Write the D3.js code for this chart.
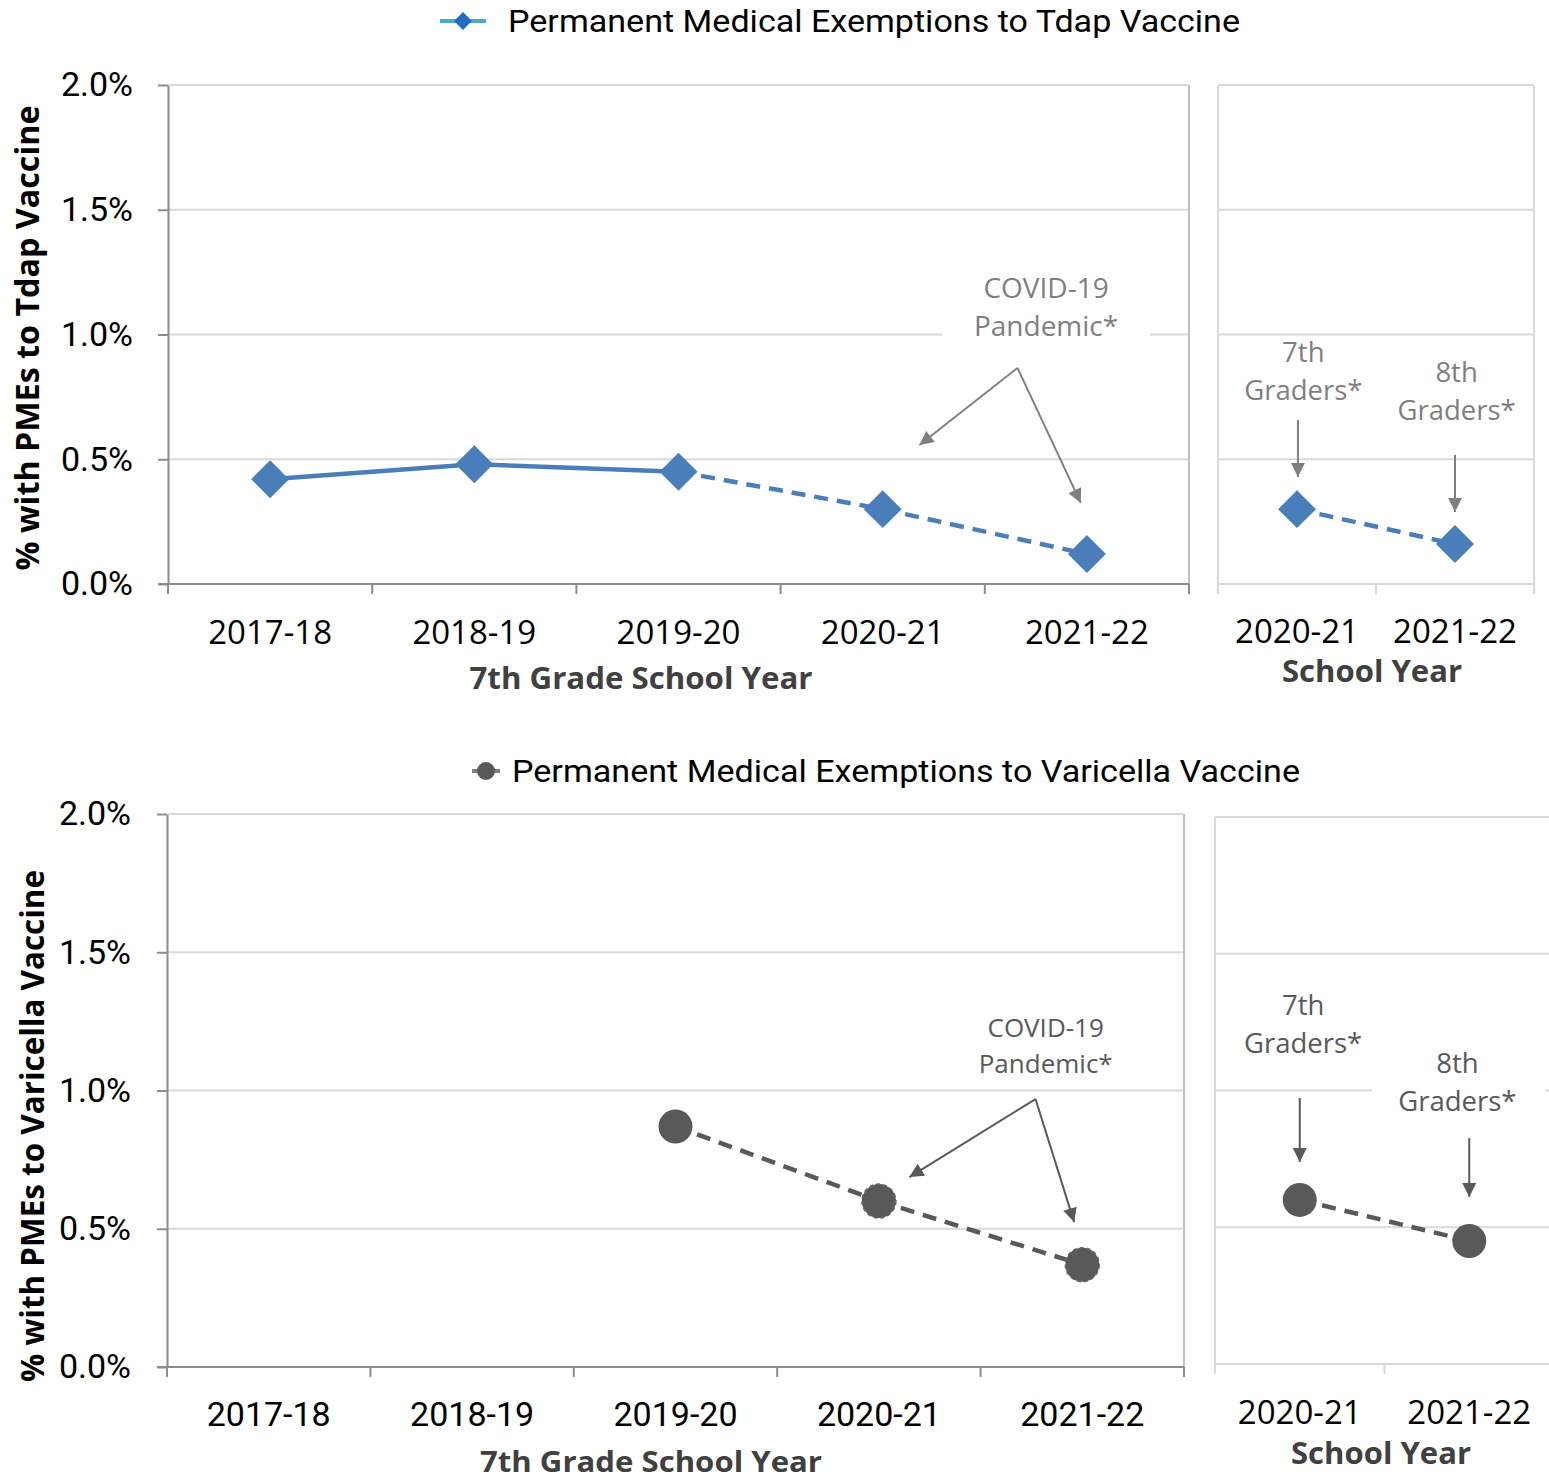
<!DOCTYPE html>
<html>
<head>
<meta charset="utf-8">
<script src="https://cdn.jsdelivr.net/npm/d3@7"></script>
<style>
  body { margin: 0; background: #fff; }
  svg { display: block; }
</style>
</head>
<body>
<div id="chart"></div>
<script>
// --- Datos ---
const seventhYears = ["2017-18", "2018-19", "2019-20", "2020-21", "2021-22"];
const gradeYears = ["2020-21", "2021-22"];
const yTicks = [0, 0.5, 1.0, 1.5, 2.0];

const tdapValues = [0.42, 0.48, 0.45, 0.30, 0.12];
const tdapGradeValues = [0.30, 0.16];
const varicellaValues = [null, null, 0.87, 0.60, 0.37];
const varicellaGradeValues = [0.60, 0.45];

// the line becomes dashed after this index (COVID years)
const tdapSolidUntil = 2;
const varicellaSolidUntil = 0;

const BLUE = "#4a7ebb";
const GRAY = "#595959";
const GRID = "#d9d9d9";
const AXIS = "#8c8c8c";

const svg = d3.select("#chart").append("svg")
    .attr("width", 1549)
    .attr("height", 1483)
    .style("font-family", "'Open Sans', sans-serif");

// arrow heads
const defs = svg.append("defs");
[["arrowLight", "#7f7f7f"], ["arrowDark", "#595959"]].forEach(([id, c]) => {
    defs.append("marker")
        .attr("id", id)
        .attr("viewBox", "0 0 10 10")
        .attr("refX", 10).attr("refY", 5)
        .attr("markerWidth", 16).attr("markerHeight", 14)
        .attr("markerUnits", "userSpaceOnUse")
        .attr("orient", "auto")
        .append("path")
        .attr("d", "M0,0 L10,5 L0,10 Z")
        .attr("fill", c);
});

function drawPanel(p) {
    const x = d3.scaleBand().domain(p.cats).range([p.x0, p.x1]);
    const y = d3.scaleLinear().domain([0, 2]).range([p.yBottom, p.yTop]);
    const cx = i => p.x0 + (i + 0.5) * x.step();
    const g = svg.append("g");

    // gridlines
    g.selectAll(".grid")
        .data(yTicks.filter(t => t > 0))
        .join("line")
        .attr("x1", p.x0).attr("x2", p.x1)
        .attr("y1", d => y(d)).attr("y2", d => y(d))
        .attr("stroke", GRID).attr("stroke-width", 2);

    // right border
    g.append("line")
        .attr("x1", p.x1).attr("x2", p.x1)
        .attr("y1", p.yTop).attr("y2", p.yBottom)
        .attr("stroke", p.main ? "#bfbfbf" : GRID).attr("stroke-width", 2);

    // left axis
    if (p.main) {
        const ax = g.append("g")
            .attr("transform", `translate(${p.x0},0)`)
            .call(d3.axisLeft(y).tickValues(yTicks)
                .tickFormat(d => d.toFixed(1) + "%")
                .tickSize(10).tickSizeOuter(0).tickPadding(p.yLabelPad));
        ax.select(".domain").attr("stroke", AXIS).attr("stroke-width", 2);
        ax.selectAll(".tick line").attr("stroke", AXIS).attr("stroke-width", 2);
        ax.selectAll(".tick text")
            .attr("fill", "#000")
            .style("font-family", "Roboto, sans-serif")
            .style("font-size", "34px");
    } else {
        g.append("line")
            .attr("x1", p.x0).attr("x2", p.x0)
            .attr("y1", p.yTop).attr("y2", p.yBottom + 10)
            .attr("stroke", GRID).attr("stroke-width", 2);
    }

    // top border
    g.append("line")
        .attr("x1", p.x0).attr("x2", p.x1)
        .attr("y1", p.yTop).attr("y2", p.yTop)
        .attr("stroke", GRID).attr("stroke-width", 2);

    // bottom axis with ticks at the category boundaries
    const axisColor = p.main ? AXIS : GRID;
    g.append("line")
        .attr("x1", p.x0 - (p.main ? 10 : 0)).attr("x2", p.x1)
        .attr("y1", p.yBottom).attr("y2", p.yBottom)
        .attr("stroke", axisColor).attr("stroke-width", 2);
    const bounds = p.cats.map(c => x(c)).concat([p.x1]);
    g.selectAll(".xtick")
        .data(bounds)
        .join("line")
        .attr("x1", d => d).attr("x2", d => d)
        .attr("y1", p.yBottom).attr("y2", p.yBottom + 10)
        .attr("stroke", axisColor).attr("stroke-width", 2);
    g.selectAll(".xlabel")
        .data(p.cats)
        .join("text")
        .attr("x", d => x(d) + x.bandwidth() / 2)
        .attr("y", p.xLabelY)
        .attr("text-anchor", "middle")
        .style("font-family", p.xLabelFont)
        .style("font-size", p.xLabelSize)
        .attr("fill", "#000")
        .text(d => d);

    // axis title
    g.append("text")
        .attr("x", p.titleX).attr("y", p.titleY)
        .attr("text-anchor", "middle")
        .attr("textLength", p.titleLen).attr("lengthAdjust", "spacingAndGlyphs")
        .style("font-size", p.titleSize || "31px").style("font-weight", "bold")
        .attr("fill", "#404040")
        .text(p.title);

    return { x, y, cx, g };
}

function drawSeries(panel, values, solidUntil, color, marker, dashedMarkerFrom) {
    const { y, cx, g } = panel;
    const pts = values.map((v, i) => ({ i, v })).filter(d => d.v !== null);
    const line = d3.line().x(d => cx(d.i)).y(d => y(d.v));
    for (let k = 0; k < pts.length - 1; k++) {
        const dashed = pts[k].i >= solidUntil;
        g.append("path")
            .datum([pts[k], pts[k + 1]])
            .attr("d", line)
            .attr("fill", "none")
            .attr("stroke", color)
            .attr("stroke-width", 4.5)
            .attr("stroke-dasharray", dashed ? "14,9" : null);
    }
    if (marker === "diamond") {
        g.selectAll(".mk")
            .data(pts)
            .join("path")
            .attr("d", d3.symbol(d3.symbolSquare, 720))
            .attr("transform", d => `translate(${cx(d.i)},${y(d.v)}) rotate(45)`)
            .attr("fill", color);
    } else {
        g.selectAll(".mk")
            .data(pts)
            .join("circle")
            .attr("cx", d => cx(d.i)).attr("cy", d => y(d.v))
            .attr("r", 17)
            .attr("fill", color)
            .attr("stroke", "#666")
            .attr("stroke-width", d => d.i >= dashedMarkerFrom ? 1.5 : 0)
            .attr("stroke-dasharray", "4,3");
    }
}

function annotate(panel, a) {
    const { y, cx, g } = panel;
    if (a.box) {
        g.append("rect")
            .attr("x", a.box[0]).attr("width", a.box[1] - a.box[0])
            .attr("y", y(a.lines[0].v) - 20).attr("height", y(a.lines[a.lines.length - 1].v) - y(a.lines[0].v) + 45)
            .attr("fill", "#fff");
    }
    a.lines.forEach(l => {
        g.append("text")
            .attr("x", cx(a.ti)).attr("y", y(l.v))
            .attr("dy", "0.35em")
            .attr("text-anchor", "middle")
            .style("font-size", a.size)
            .attr("fill", a.color)
            .text(l.t);
    });
    a.arrows.forEach(ar => {
        g.append("line")
            .attr("x1", cx(ar[0])).attr("y1", y(ar[1]))
            .attr("x2", cx(ar[2])).attr("y2", y(ar[3]))
            .attr("stroke", a.color).attr("stroke-width", 2)
            .attr("marker-end", `url(#${a.color === GRAY ? "arrowDark" : "arrowLight"})`);
    });
}

function legend(x, y, label, len, marker, lineColor, markColor, lineX0, lineX1) {
    const g = svg.append("g");
    g.append("line")
        .attr("x1", lineX0).attr("x2", lineX1)
        .attr("y1", y).attr("y2", y)
        .attr("stroke", lineColor).attr("stroke-width", 4);
    const mx = (lineX0 + lineX1) / 2;
    if (marker === "diamond") {
        g.append("path")
            .attr("d", d3.symbol(d3.symbolSquare, 160))
            .attr("transform", `translate(${mx},${y}) rotate(45)`)
            .attr("fill", markColor);
    } else {
        g.append("circle").attr("cx", mx).attr("cy", y).attr("r", 9).attr("fill", markColor);
    }
    g.append("text")
        .attr("x", x).attr("y", y)
        .attr("dy", "0.35em")
        .attr("textLength", len).attr("lengthAdjust", "spacingAndGlyphs")
        .style("font-family", "Roboto, sans-serif")
        .style("font-size", "31px")
        .attr("fill", "#000")
        .text(label);
}

function yTitle(x, yc, label, len) {
    svg.append("text")
        .attr("transform", `translate(${x},${yc}) rotate(-90)`)
        .attr("text-anchor", "middle")
        .attr("dy", "0.35em")
        .attr("textLength", len).attr("lengthAdjust", "spacingAndGlyphs")
        .style("font-size", "32px").style("font-weight", "bold")
        .attr("fill", "#000")
        .text(label);
}

// --- Tdap ---
legend(508, 21, "Permanent Medical Exemptions to Tdap Vaccine", 732, "diamond", "#4bacc6", "#1f6fbf", 440, 486);
yTitle(28, 338, "% with PMEs to Tdap Vaccine", 465);

const tdapMain = drawPanel({
    main: true, cats: seventhYears, x0: 168, x1: 1189, yTop: 85, yBottom: 584,
    yLabelPad: 25, xLabelY: 644, xLabelFont: "'Open Sans', sans-serif", xLabelSize: "33px",
    title: "7th Grade School Year", titleX: 641, titleY: 689, titleLen: 343
});
annotate(tdapMain, {
    ti: 3.80, size: "28px", color: "#7f7f7f", box: [942, 1150],
    lines: [{ t: "COVID-19", v: 1.186 }, { t: "Pandemic*", v: 1.034 }],
    arrows: [[3.66, 0.866, 3.18, 0.557], [3.66, 0.866, 3.97, 0.325]]
});
drawSeries(tdapMain, tdapValues, tdapSolidUntil, BLUE, "diamond", 99);

const tdapSide = drawPanel({
    main: false, cats: gradeYears, x0: 1218, x1: 1534, yTop: 85, yBottom: 584,
    xLabelY: 643, xLabelFont: "'Open Sans', sans-serif", xLabelSize: "33px",
    title: "School Year", titleX: 1372, titleY: 682, titleLen: 180
});
annotate(tdapSide, {
    ti: 0.04, size: "27.5px", color: "#7f7f7f",
    lines: [{ t: "7th", v: 0.93 }, { t: "Graders*", v: 0.778 }],
    arrows: [[0.006, 0.657, 0.006, 0.429]]
});
annotate(tdapSide, {
    ti: 1.01, size: "27.5px", color: "#7f7f7f",
    lines: [{ t: "8th", v: 0.85 }, { t: "Graders*", v: 0.697 }],
    arrows: [[1.0, 0.517, 1.0, 0.289]]
});
drawSeries(tdapSide, tdapGradeValues, 0, BLUE, "diamond", 99);

// --- Varicella ---
legend(512, 771, "Permanent Medical Exemptions to Varicella Vaccine", 788, "circle", "#7f7f7f", GRAY, 472, 500);
yTitle(33, 1126, "% with PMEs to Varicella Vaccine", 512);

const varMain = drawPanel({
    main: true, cats: seventhYears, x0: 167, x1: 1184, yTop: 814, yBottom: 1367,
    yLabelPad: 26, xLabelY: 1426, xLabelFont: "Roboto, sans-serif", xLabelSize: "34px",
    title: "7th Grade School Year", titleX: 651, titleY: 1472, titleLen: 342, titleSize: "29px"
});
annotate(varMain, {
    ti: 3.82, size: "26px", color: GRAY, box: [945, 1147],
    lines: [{ t: "COVID-19", v: 1.226 }, { t: "Pandemic*", v: 1.096 }],
    arrows: [[3.77, 0.969, 3.15, 0.687], [3.77, 0.969, 3.96, 0.524]]
});
drawSeries(varMain, varicellaValues, varicellaSolidUntil, GRAY, "circle", 3);

const varSide = drawPanel({
    main: false, cats: gradeYears, x0: 1215, x1: 1554, yTop: 817, yBottom: 1364,
    xLabelY: 1424, xLabelFont: "'Open Sans', sans-serif", xLabelSize: "33px",
    title: "School Year", titleX: 1381, titleY: 1464, titleLen: 180
});
annotate(varSide, {
    ti: 0.02, size: "27.5px", color: GRAY,
    lines: [{ t: "7th", v: 1.313 }, { t: "Graders*", v: 1.174 }],
    arrows: [[0.0, 0.973, 0.0, 0.739]]
});
annotate(varSide, {
    ti: 0.93, size: "27.5px", color: GRAY, box: [1372, 1545],
    lines: [{ t: "8th", v: 1.10 }, { t: "Graders*", v: 0.962 }],
    arrows: [[1.0, 0.826, 1.0, 0.611]]
});
drawSeries(varSide, varicellaGradeValues, 0, GRAY, "circle", 99);
</script>
</body>
</html>
